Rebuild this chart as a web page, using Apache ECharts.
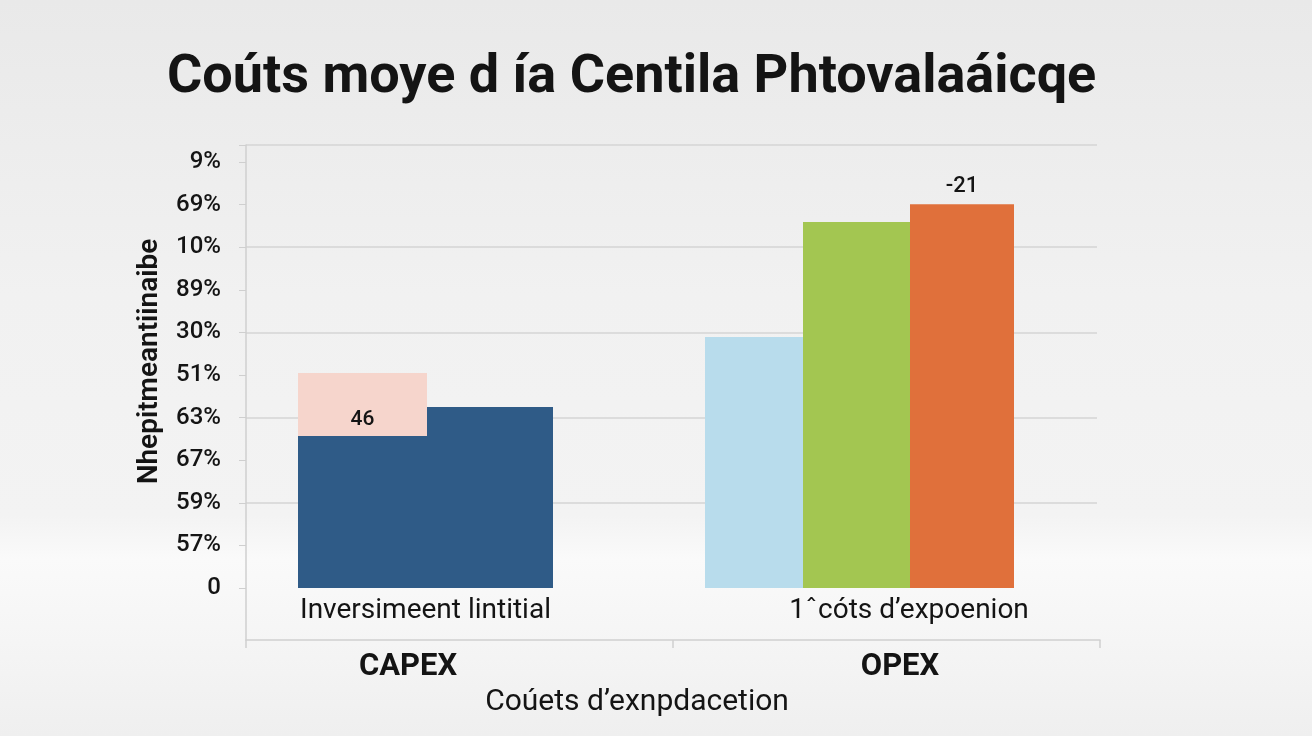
<!DOCTYPE html>
<html>
<head>
<meta charset="utf-8">
<script src="https://cdn.jsdelivr.net/npm/echarts@6/dist/echarts.min.js"></script>
<style>
html, body { margin: 0; padding: 0; }
#chart { width: 1312px; height: 736px; }
</style>
</head>
<body>
<div id="chart"></div>
<script>
"use strict";
/** Value axis tick labels, bottom (0) to top (10) */
const yTickLabels = ["0", "57%", "59%", "67%", "63%", "51%", "30%", "89%", "10%", "69%", "9%"];
/** Group names under the axis line */
const groupNames = ["CAPEX", "OPEX"];
/** Labels right under the bars */
const subLabels = ["Inversimeent lintitial", "1ˆcóts d’expoenion"];
/** CAPEX group: blue bar and the floating pink box */
const capexBlue = [4.25, "-"];
const capexPinkBottom = [3.57, "-"];
const capexPinkTop = [5.05, "-"];
/** OPEX group */
const opexLightBlue = ["-", 5.89];
const opexGreen = ["-", 8.59];
const opexOrange = ["-", 9.01];
/** Texts printed on bars */
const pinkLabel = "46";
const orangeLabel = "-21";

const FONT = "Roboto, 'Liberation Sans', sans-serif";
const INK = "#141414";
const GRID_LINE = "#d5d5d5";

// pink box is drawn as a transparent base plus the visible part on top
const capexPinkHeight = capexPinkTop.map((v, i) => v === "-" ? "-" : +(v - capexPinkBottom[i]).toFixed(2));

// split lines: show on even ticks and the top edge, hide the rest
const splitColors = yTickLabels.map((_, i) => (i > 0 && i % 2 === 0 && i < 10) ? GRID_LINE : "rgba(0,0,0,0)");
splitColors.push(GRID_LINE); // top edge line

let chart = echarts.init(document.getElementById("chart"));

chart.setOption({
    animation: false,
    backgroundColor: {
        type: "linear", x: 0, y: 0, x2: 0, y2: 1,
        colorStops: [
            { offset: 0, color: "#e9e9e9" },
            { offset: 0.4, color: "#f1f1f1" },
            { offset: 0.7, color: "#f3f3f3" },
            { offset: 0.76, color: "#fafafa" },
            { offset: 0.85, color: "#f6f6f6" },
            { offset: 1, color: "#efefef" }
        ]
    },
    title: {
        text: "Coúts moye d ía Centila Phtovalaáicqe",
        left: 162,
        top: 46,
        textStyle: { fontFamily: FONT, fontSize: 54, fontWeight: "bold", color: INK }
    },
    grid: [
        // value labels + grid lines
        { left: 246, right: 215, top: 145, bottom: 148 },
        // bars
        { left: 208.5, right: 235.5, top: 145, bottom: 148 },
        // frame: y axis line + group axis
        { left: 246, right: 212, top: 145, bottom: 96 }
    ],
    xAxis: [
        { gridIndex: 0, type: "category", data: groupNames, show: false },
        {
            gridIndex: 1, type: "category", data: subLabels,
            axisLine: { show: false }, axisTick: { show: false },
            axisLabel: {
                margin: 9, interval: 0, color: INK, fontFamily: FONT, fontSize: 28,
                formatter: (v, i) => i === 1 ? `{r|${v}}` : `{l|${v}}`,
                rich: {
                    l: { fontFamily: FONT, fontSize: 28, color: INK },
                    r: { fontFamily: FONT, fontSize: 28, color: INK, padding: [0, 0, 0, 99] }
                }
            }
        },
        { gridIndex: 1, type: "category", data: subLabels, show: false },
        {
            gridIndex: 2, type: "category", data: groupNames,
            axisLine: { show: true, lineStyle: { color: "#cfcfcf", width: 1.5 } },
            axisTick: { show: true, length: 8, lineStyle: { color: "#cfcfcf", width: 1.5 } },
            axisLabel: {
                margin: 12, interval: 0,
                formatter: (v, i) => i === 0 ? `{c|${v}}` : `{o|${v}}`,
                rich: {
                    c: { fontFamily: FONT, fontSize: 31, fontWeight: "bold", color: INK, padding: [0, 103, 0, 0] },
                    o: { fontFamily: FONT, fontSize: 31, fontWeight: "bold", color: INK, padding: [0, 0, 0, 27] }
                }
            },
            name: "Coúets d’exnpdacetion",
            nameLocation: "middle",
            nameGap: 39,
            nameTextStyle: { fontFamily: FONT, fontSize: 30, color: INK, padding: [0, 72, 0, 0] }
        }
    ],
    yAxis: [
        {
            gridIndex: 0, type: "value", min: 0, max: 10.4, interval: 1,
            axisLine: { show: false },
            axisTick: { show: true, length: 7, lineStyle: { color: "#cfcfcf" } },
            axisLabel: {
                margin: 25, color: INK, fontFamily: FONT, fontSize: 24, fontWeight: 500,
                formatter: (value) => Number.isInteger(value) ? yTickLabels[value] : ""
            },
            splitLine: { show: true, lineStyle: { color: splitColors, width: 1.5 } },
            name: "Nhepitmeantiinaibe",
            nameLocation: "middle",
            nameGap: 82,
            nameTextStyle: { fontFamily: FONT, fontSize: 28, fontWeight: 600, color: INK, padding: [0, 0, 0, 10] }
        },
        { gridIndex: 1, type: "value", min: 0, max: 10.4, show: false },
        {
            gridIndex: 2, type: "value", min: 0, max: 10.4,
            axisLine: { show: true, lineStyle: { color: "#cfcfcf", width: 1.5 } },
            axisTick: { show: false }, axisLabel: { show: false }, splitLine: { show: false }
        }
    ],
    series: [
        {
            name: "pinkBase", type: "bar", xAxisIndex: 1, yAxisIndex: 1,
            stack: "pink", barWidth: 129, barGap: "-100%",
            itemStyle: { color: "rgba(0,0,0,0)" },
            emphasis: { disabled: true }, silent: true,
            data: capexPinkBottom
        },
        {
            name: "pink", type: "bar", xAxisIndex: 1, yAxisIndex: 1,
            stack: "pink", barWidth: 129, barGap: "-100%", z: 3,
            itemStyle: { color: "#f6d5cc" },
            label: {
                show: true, position: "insideBottom", distance: 6,
                formatter: () => pinkLabel,
                fontFamily: FONT, fontSize: 21, fontWeight: 500, color: INK
            },
            data: capexPinkHeight
        },
        {
            name: "blue", type: "bar", xAxisIndex: 1, yAxisIndex: 1,
            barWidth: 255, barGap: "-100%", z: 1,
            itemStyle: { color: "#2f5b87" },
            data: capexBlue
        },
        {
            name: "lightBlue", type: "bar", xAxisIndex: 2, yAxisIndex: 1,
            barWidth: 98, barGap: 0,
            itemStyle: { color: "#b8dcec" },
            data: opexLightBlue
        },
        {
            name: "green", type: "bar", xAxisIndex: 2, yAxisIndex: 1,
            barWidth: 107, barGap: 0,
            itemStyle: { color: "#a3c651" },
            data: opexGreen
        },
        {
            name: "orange", type: "bar", xAxisIndex: 2, yAxisIndex: 1,
            barWidth: 104, barGap: 0,
            itemStyle: { color: "#e0703b" },
            label: {
                show: true, position: "top", distance: 7,
                formatter: () => orangeLabel,
                fontFamily: FONT, fontSize: 22, fontWeight: 500, color: INK
            },
            data: opexOrange
        }
    ]
});
</script>
</body>
</html>
